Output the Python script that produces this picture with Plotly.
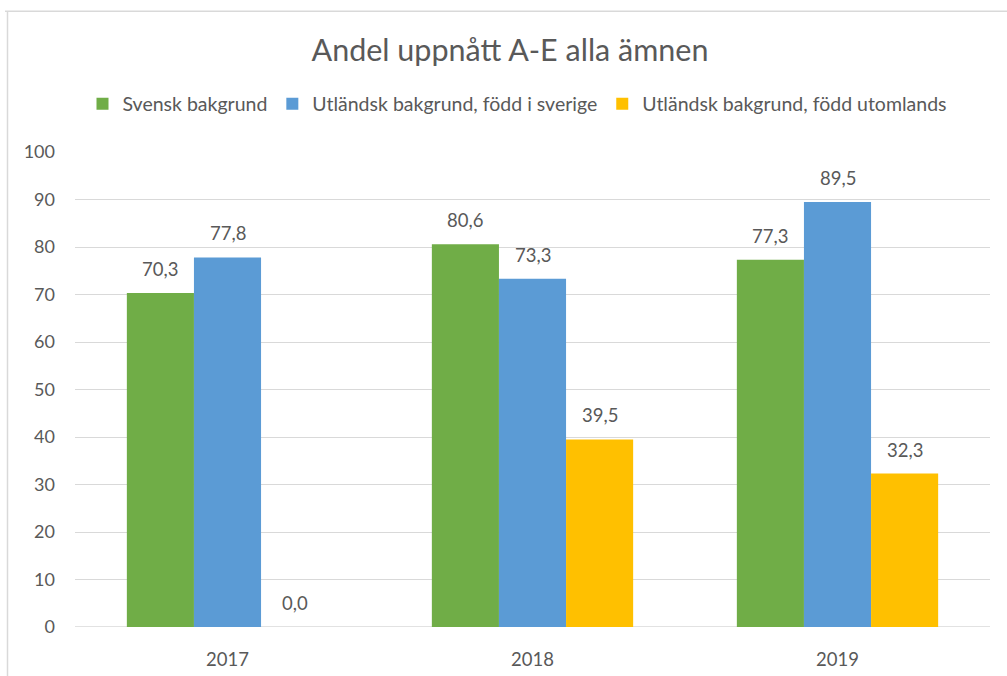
import plotly.graph_objects as go

years = ["2017", "2018", "2019"]
series_names = ["Svensk bakgrund", "Utländsk bakgrund, född i sverige", "Utländsk bakgrund, född utomlands"]
svensk = [70.3, 80.6, 77.3]
fodd_sverige = [77.8, 73.3, 89.5]
fodd_utomlands = [0.0, 39.5, 32.3]
colors = ["#70AD47", "#5B9BD5", "#FFC000"]
yticks = [0, 10, 20, 30, 40, 50, 60, 70, 80, 90, 100]

FONT = "Lato"
TXT = "#595959"

L, R, T, B = 75, 17, 151.5, 49
W, H = 1007, 676
pw, ph = W - L - R, H - T - B
BARGAP = 0.34

def px_to_paper_x(px):
    return (px - L) / pw

def px_to_paper_y(py):
    return (H - B - py) / ph

fig = go.Figure()
all_series = [svensk, fodd_sverige, fodd_utomlands]
for name, vals, col in zip(series_names, all_series, colors):
    fig.add_trace(go.Bar(
        x=years, y=vals, name=name, marker=dict(color=col, line=dict(width=0)),
        hoverinfo="x+y+name",
    ))

# data labels as annotations, offset to each bar's position in its group
bar_px = pw / len(years) * (1 - BARGAP) / len(all_series)
annotations = []
for i, vals in enumerate(all_series):
    for j, v in enumerate(vals):
        annotations.append(dict(
            x=j, y=v, xref="x", yref="y", text=f"{v:.1f}".replace(".", ","),
            showarrow=False, xanchor="center", yanchor="bottom",
            xshift=(i - 1) * bar_px, yshift=11,
            font=dict(family=FONT, size=18.5, color=TXT),
        ))

fig.update_layout(
    width=W, height=H,
    margin=dict(l=L, r=R, t=T, b=B, autoexpand=False),
    paper_bgcolor="white", plot_bgcolor="white",
    barmode="group", bargap=BARGAP, bargroupgap=0,
    font=dict(family=FONT, color=TXT, size=18),
    title=dict(text="Andel uppnått A-E alla ämnen", x=510 / W, xanchor="center",
               y=1 - 50 / H, yanchor="middle",
               font=dict(family=FONT, size=30.5, color=TXT)),
    legend=dict(orientation="h", xref="container", yref="container",
                x=517 / W, xanchor="center",
                y=1 - 104 / H, yanchor="middle",
                font=dict(family=FONT, size=19.5, color=TXT),
                itemwidth=30, traceorder="normal"),
    showlegend=True,
    annotations=annotations,
    yaxis=dict(range=[0, 100], tickvals=yticks, showgrid=True, gridcolor="#D9D9D9",
               gridwidth=1.3, zeroline=False, showline=False, automargin=False,
               ticks="", ticklabelstandoff=19,
               tickfont=dict(family=FONT, size=18, color=TXT)),
    xaxis=dict(type="category", range=[-0.5, 2.5], showgrid=False, showline=False,
               automargin=False, ticks="", ticklabelstandoff=19,
               tickfont=dict(family=FONT, size=18.5, color=TXT)),
    shapes=[
        dict(type="line", xref="paper", yref="paper",
             x0=px_to_paper_x(5), x1=px_to_paper_x(1010),
             y0=px_to_paper_y(10.5), y1=px_to_paper_y(10.5),
             line=dict(color="#D9D9D9", width=1.5)),
        dict(type="line", xref="paper", yref="paper",
             x0=px_to_paper_x(7.5), x1=px_to_paper_x(7.5),
             y0=px_to_paper_y(10.5), y1=px_to_paper_y(680),
             line=dict(color="#D9D9D9", width=1.5)),
        dict(type="line", xref="paper", yref="y",
             x0=0, x1=1, y0=0, y1=0, layer="below",
             line=dict(color="#D9D9D9", width=1.5)),
    ],
)

fig.write_html("out.html", config={"displayModeBar": False},
               post_script="document.body.style.margin='0';")
